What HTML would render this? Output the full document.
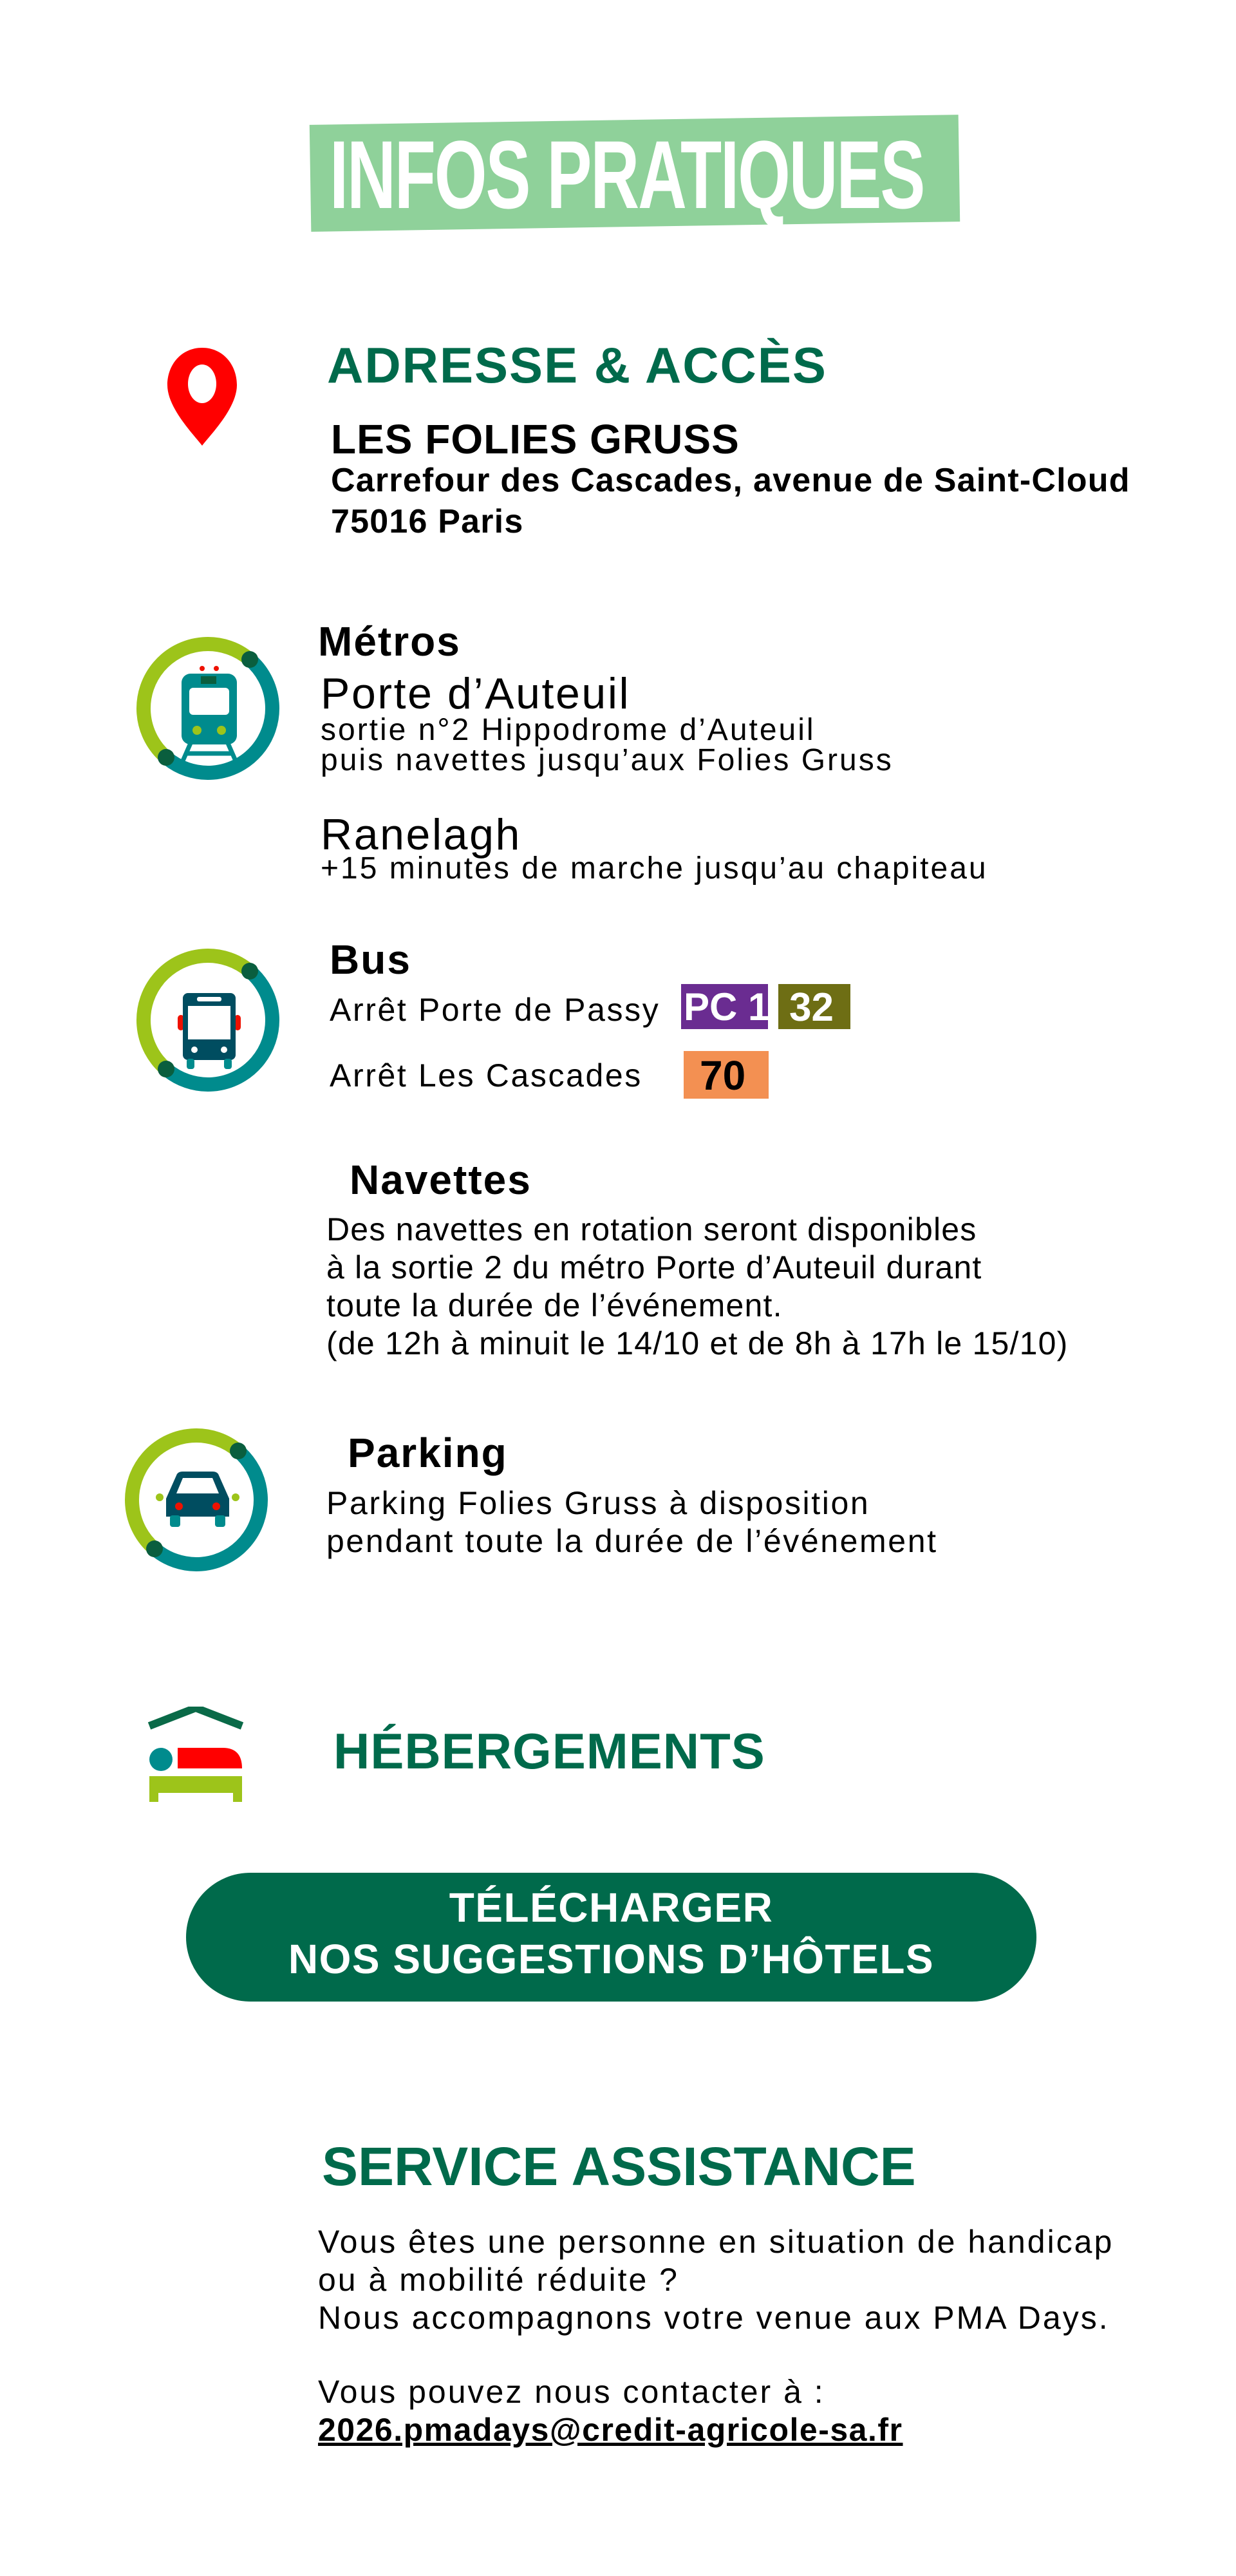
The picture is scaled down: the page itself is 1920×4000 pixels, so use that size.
<!DOCTYPE html>
<html><head><meta charset="utf-8"><style>
body{margin:0;background:#fff;}
#p{position:relative;width:1920px;height:4000px;overflow:hidden;font-family:"Liberation Sans",sans-serif;color:#000;}
.t{position:absolute;white-space:nowrap;line-height:1;}
.w{letter-spacing:2.6px;}
.g{color:#006a4b;font-weight:bold;}
svg{position:absolute;}
</style></head><body><div id="p">

<div style="position:absolute;left:482px;top:186px;width:1008px;height:166px;background:#8fd19a;transform:rotate(-0.9deg);"></div>
<div class="t" style="left:512px;top:196px;font-size:150px;color:#fff;transform:scaleX(0.7);transform-origin:left top;letter-spacing:-3px;font-weight:bold;">INFOS PRATIQUES</div>

<svg style="left:252px;top:536px" width="124" height="160" viewBox="0 0 124 160"><path d="M62 4C30 4 8 30 8 62C8 98 50 140 62 156C74 140 116 98 116 62C116 30 94 4 62 4Z" fill="#f00"/><ellipse cx="62" cy="60" rx="22" ry="30" fill="#fff"/></svg>
<div class="t g" style="left:508px;top:528px;font-size:78px;letter-spacing:2px;">ADRESSE &amp; ACCÈS</div>
<div class="t" style="left:514px;top:650px;font-size:64px;font-weight:bold;letter-spacing:1px;">LES FOLIES GRUSS</div>
<div class="t" style="left:514px;top:720px;font-size:52px;font-weight:bold;letter-spacing:1.2px;">Carrefour des Cascades, avenue de Saint-Cloud</div>
<div class="t" style="left:514px;top:784px;font-size:52px;font-weight:bold;letter-spacing:1.2px;">75016 Paris</div>

<svg style="left:210px;top:986px" width="230" height="230" viewBox="0 0 230 230">
<path d="M48 190 A100 100 0 0 1 178 38" fill="none" stroke="#9dc41a" stroke-width="22"/>
<path d="M178 38 A100 100 0 0 1 48 190" fill="none" stroke="#008b8d" stroke-width="22"/>
<circle cx="178" cy="38" r="13" fill="#0a5e3e"/><circle cx="48" cy="190" r="13" fill="#0a5e3e"/>
<rect x="72" y="60" width="86" height="110" rx="14" fill="#008b8d"/>
<rect x="84" y="82" width="62" height="42" rx="6" fill="#fff"/>
<rect x="102" y="64" width="24" height="12" fill="#0a5e3e"/>
<circle cx="104" cy="52" r="4" fill="#e10"/><circle cx="126" cy="52" r="4" fill="#e10"/>
<circle cx="96" cy="148" r="7" fill="#9dc41a"/><circle cx="134" cy="148" r="7" fill="#9dc41a"/>
<path d="M86 168 L72 200 M144 168 L158 200 M80 184 L150 184" stroke="#008b8d" stroke-width="7" fill="none"/>
</svg>
<div class="t" style="left:494px;top:964px;font-size:64px;font-weight:bold;letter-spacing:2px;">Métros</div>
<div class="t w" style="left:498px;top:1043px;font-size:68px;">Porte d’Auteuil</div>
<div class="t w" style="left:498px;top:1110px;font-size:48px;letter-spacing:3px;">sortie n°2 Hippodrome d’Auteuil</div>
<div class="t w" style="left:498px;top:1157px;font-size:48px;letter-spacing:3px;">puis navettes jusqu’aux Folies Gruss</div>
<div class="t w" style="left:498px;top:1262px;font-size:68px;">Ranelagh</div>
<div class="t w" style="left:498px;top:1325px;font-size:48px;letter-spacing:3px;">+15 minutes de marche jusqu’au chapiteau</div>

<svg style="left:210px;top:1470px" width="230" height="230" viewBox="0 0 230 230">
<path d="M48 190 A100 100 0 0 1 178 38" fill="none" stroke="#9dc41a" stroke-width="22"/>
<path d="M178 38 A100 100 0 0 1 48 190" fill="none" stroke="#008b8d" stroke-width="22"/>
<circle cx="178" cy="38" r="13" fill="#0a5e3e"/><circle cx="48" cy="190" r="13" fill="#0a5e3e"/>
<rect x="66" y="106" width="10" height="24" rx="5" fill="#e10"/><rect x="154" y="106" width="10" height="24" rx="5" fill="#e10"/>
<rect x="74" y="72" width="82" height="104" rx="8" fill="#004d60"/>
<rect x="82" y="92" width="66" height="52" fill="#fff"/>
<rect x="96" y="78" width="38" height="7" rx="3" fill="#fff"/>
<circle cx="92" cy="160" r="5" fill="#fff"/><circle cx="138" cy="160" r="5" fill="#fff"/>
<rect x="80" y="174" width="12" height="16" rx="4" fill="#008b8d"/><rect x="138" y="174" width="12" height="16" rx="4" fill="#008b8d"/>
</svg>
<div class="t" style="left:512px;top:1458px;font-size:64px;font-weight:bold;letter-spacing:2px;">Bus</div>
<div class="t w" style="left:512px;top:1543px;font-size:50px;">Arrêt Porte de Passy</div>
<div style="position:absolute;left:1058px;top:1528px;width:135px;height:70px;background:#6a2c91;"></div>
<div class="t" style="left:1062px;top:1534px;font-size:60px;font-weight:bold;color:#fff;">PC 1</div>
<div style="position:absolute;left:1209px;top:1528px;width:112px;height:70px;background:#6e6e14;"></div>
<div class="t" style="left:1226px;top:1534px;font-size:62px;font-weight:bold;color:#fff;">32</div>
<div class="t w" style="left:512px;top:1645px;font-size:50px;">Arrêt Les Cascades</div>
<div style="position:absolute;left:1062px;top:1632px;width:132px;height:74px;background:#f39052;"></div>
<div class="t" style="left:1087px;top:1638px;font-size:64px;font-weight:bold;">70</div>

<div class="t" style="left:543px;top:1800px;font-size:64px;font-weight:bold;letter-spacing:2px;">Navettes</div>
<div class="t" style="left:507px;top:1880px;font-size:50px;line-height:59px;letter-spacing:1.2px;">Des navettes en rotation seront disponibles<br>à la sortie 2 du métro Porte d’Auteuil durant<br>toute la durée de l’événement.<br>(de 12h à minuit le 14/10 et de 8h à 17h le 15/10)</div>

<svg style="left:192px;top:2215px" width="230" height="230" viewBox="0 0 230 230">
<path d="M48 190 A100 100 0 0 1 178 38" fill="none" stroke="#9dc41a" stroke-width="22"/>
<path d="M178 38 A100 100 0 0 1 48 190" fill="none" stroke="#008b8d" stroke-width="22"/>
<circle cx="178" cy="38" r="13" fill="#0a5e3e"/><circle cx="48" cy="190" r="13" fill="#0a5e3e"/>
<circle cx="56" cy="110" r="6" fill="#9dc41a"/><circle cx="174" cy="110" r="6" fill="#9dc41a"/>
<path d="M66 140 L66 112 L82 76 Q84 70 92 70 L138 70 Q146 70 148 76 L164 112 L164 140 Z" fill="#004d60"/>
<path d="M82 104 L92 80 L138 80 L148 104 Z" fill="#fff"/>
<circle cx="86" cy="124" r="6" fill="#e10"/><circle cx="144" cy="124" r="6" fill="#e10"/>
<rect x="72" y="138" width="16" height="18" rx="4" fill="#008b8d"/><rect x="142" y="138" width="16" height="18" rx="4" fill="#008b8d"/>
</svg>
<div class="t" style="left:540px;top:2224px;font-size:64px;font-weight:bold;letter-spacing:2px;">Parking</div>
<div class="t w" style="left:507px;top:2305px;font-size:50px;line-height:59px;">Parking Folies Gruss à disposition<br>pendant toute la durée de l’événement</div>

<svg style="left:228px;top:2650px" width="152" height="150" viewBox="0 0 152 150">
<path d="M4 30 L76 2 L148 30" fill="none" stroke="#0a6a48" stroke-width="12"/>
<circle cx="22" cy="82" r="18" fill="#008b8d"/>
<path d="M48 64 L118 64 Q148 64 148 96 L48 96 Z" fill="#f00"/>
<rect x="4" y="108" width="144" height="26" fill="#9dc41a"/>
<rect x="4" y="130" width="14" height="18" fill="#9dc41a"/><rect x="134" y="130" width="14" height="18" fill="#9dc41a"/>
<rect x="18" y="134" width="116" height="16" fill="#fff"/>
</svg>
<div class="t g" style="left:518px;top:2680px;font-size:78px;letter-spacing:1px;">HÉBERGEMENTS</div>

<div style="position:absolute;left:289px;top:2908px;width:1321px;height:200px;border-radius:100px;background:#006a4b;"></div>
<div class="t" style="left:289px;width:1321px;top:2922px;font-size:64px;font-weight:bold;color:#fff;text-align:center;line-height:80px;letter-spacing:1.5px;">TÉLÉCHARGER<br>NOS SUGGESTIONS D’HÔTELS</div>

<div class="t g" style="left:500px;top:3322px;font-size:84px;">SERVICE ASSISTANCE</div>
<div class="t w" style="left:494px;top:3452px;font-size:50px;line-height:59px;letter-spacing:3px;">Vous êtes une personne en situation de handicap<br>ou à mobilité réduite ?<br>Nous accompagnons votre venue aux PMA Days.</div>
<div class="t w" style="left:494px;top:3689px;font-size:50px;letter-spacing:3px;">Vous pouvez nous contacter à :</div>
<div class="t" style="left:494px;top:3748px;font-size:50px;font-weight:bold;text-decoration:underline;letter-spacing:1.5px;">2026.pmadays@credit-agricole-sa.fr</div>

</div></body></html>
